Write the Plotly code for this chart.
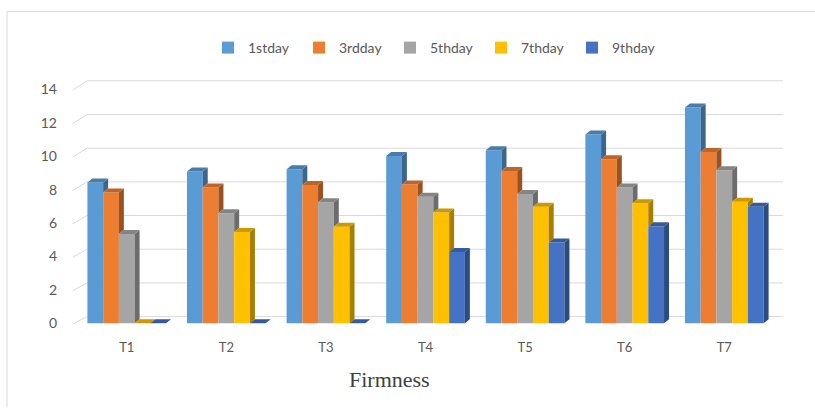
import plotly.graph_objects as go

# Firmness readings per treatment and storage day
treatments = ["T1", "T2", "T3", "T4", "T5", "T6", "T7"]
series_names = ["1stday", "3rdday", "5thday", "7thday", "9thday"]
day1 = [8.43, 9.08, 9.22, 10.01, 10.35, 11.30, 12.92]
day3 = [7.83, 8.13, 8.27, 8.31, 9.12, 9.82, 10.25]
day5 = [5.34, 6.59, 7.24, 7.58, 7.74, 8.13, 9.16]
day7 = [0.00, 5.46, 5.78, 6.63, 6.97, 7.18, 7.28]
day9 = [0.00, 0.00, 0.00, 4.27, 4.83, 5.80, 6.98]
y_ticks = [0, 2, 4, 6, 8, 10, 12, 14]

series_values = [day1, day3, day5, day7, day9]
front_colors = ["#5B9BD5", "#ED7D31", "#A5A5A5", "#FFC000", "#4472C4"]

# geometry of the pseudo-3D columns (axis units)
BAR_W = 0.158
DX, DY = 0.05, 0.24
GRID_BACK_DY = 0.40
GRID_BACK_SCALE = 1.008


def shade(hex_color, f):
    h = hex_color.lstrip("#")
    r, g, b = (int(h[i:i + 2], 16) for i in (0, 2, 4))
    return "rgb({},{},{})".format(int(r * f), int(g * f), int(b * f))


fig = go.Figure()

n_series = len(series_values)
for k, (name, vals, col) in enumerate(zip(series_names, series_values, front_colors)):
    xs = [i + (k - (n_series - 1) / 2) * BAR_W for i in range(len(treatments))]
    fig.add_trace(go.Bar(
        x=xs, y=vals, width=BAR_W, name=name,
        marker=dict(color=col, line=dict(width=0)),
        hovertemplate=name + " %{y}<extra></extra>",
    ))

# side and top faces, drawn after the fronts
for k, (vals, col) in enumerate(zip(series_values, front_colors)):
    side_x, side_y, top_x, top_y = [], [], [], []
    for i, v in enumerate(vals):
        xc = i + (k - (n_series - 1) / 2) * BAR_W
        xl, xr = xc - BAR_W / 2, xc + BAR_W / 2
        base = series_values[k + 1][i] if k < n_series - 1 else 0.0
        if v > base:
            side_x += [xr, xr + DX, xr + DX, xr, None]
            side_y += [base, base + DY, v + DY, v, None]
        top_x += [xl, xr, xr + DX, xl + DX, None]
        top_y += [v, v, v + DY, v + DY, None]
    fig.add_trace(go.Scatter(
        x=side_x, y=side_y, mode="lines", fill="toself",
        fillcolor=shade(col, 0.66), line=dict(width=0),
        hoverinfo="skip", showlegend=False,
    ))
    fig.add_trace(go.Scatter(
        x=top_x, y=top_y, mode="lines", fill="toself",
        fillcolor=shade(col, 0.8), line=dict(width=0),
        hoverinfo="skip", showlegend=False,
    ))

# back-wall gridlines with their slanted left ends
shapes = []
grid_col = "#D9D9D9"
x_front, x_back, x_end = -0.543, -0.399, 6.59
for v in y_ticks:
    yb = v * GRID_BACK_SCALE + GRID_BACK_DY
    shapes.append(dict(type="line", xref="x", yref="y", x0=x_back, x1=x_end,
                       y0=yb, y1=yb, line=dict(color=grid_col, width=1), layer="below"))
    shapes.append(dict(type="line", xref="x", yref="y", x0=x_front, x1=x_back,
                       y0=v - 0.05, y1=yb, line=dict(color=grid_col, width=1), layer="below"))

# chart frame (top and left edges)
L, T, R, B = 67, 74, 21, 68
W, H = 815 - L - R, 408 - T - B


def px_x(px):
    return (px - L) / W


def px_y(py):
    return (408 - B - py) / H


shapes.append(dict(type="line", xref="paper", yref="paper", x0=px_x(7), x1=px_x(815),
                   y0=px_y(9), y1=px_y(9), line=dict(color=grid_col, width=1)))
shapes.append(dict(type="line", xref="paper", yref="paper", x0=px_x(7), x1=px_x(7),
                   y0=px_y(9), y1=px_y(408), line=dict(color=grid_col, width=1)))

label_font = dict(family="Lato, Open Sans, sans-serif", size=14, color="#595959")

fig.update_layout(
    width=815, height=408,
    margin=dict(l=L, r=R, t=T, b=B, pad=0),
    paper_bgcolor="white", plot_bgcolor="white",
    barmode="overlay",
    shapes=shapes,
    showlegend=True,
    legend=dict(
        orientation="h", xref="container", yref="container",
        x=208 / 815, xanchor="left", y=1 - 48 / 408, yanchor="middle",
        font=label_font, entrywidth=46, itemwidth=30,
        bgcolor="rgba(0,0,0,0)", traceorder="normal",
    ),
    xaxis=dict(
        range=[-0.6, 6.7], tickmode="array",
        tickvals=list(range(len(treatments))), ticktext=treatments,
        showgrid=False, zeroline=False, showline=False, ticks="",
        ticklabelstandoff=-2,
        tickfont=dict(family="Lato, Open Sans, sans-serif", size=13, color="#595959"),
        fixedrange=True,
    ),
    yaxis=dict(
        range=[-1.0, 14.8], tickmode="array", tickvals=y_ticks,
        ticktext=[str(v) for v in y_ticks],
        showgrid=False, zeroline=False, showline=False, ticks="",
        ticklabelstandoff=9,
        tickfont=label_font, fixedrange=True,
    ),
    annotations=[dict(
        text="Firmness", xref="paper", yref="paper", x=px_x(389), y=px_y(380),
        xanchor="center", yanchor="middle", showarrow=False,
        font=dict(family="Liberation Serif, Times New Roman, serif", size=22, color="#404040"),
    )],
)

fig.write_html("out.html")
